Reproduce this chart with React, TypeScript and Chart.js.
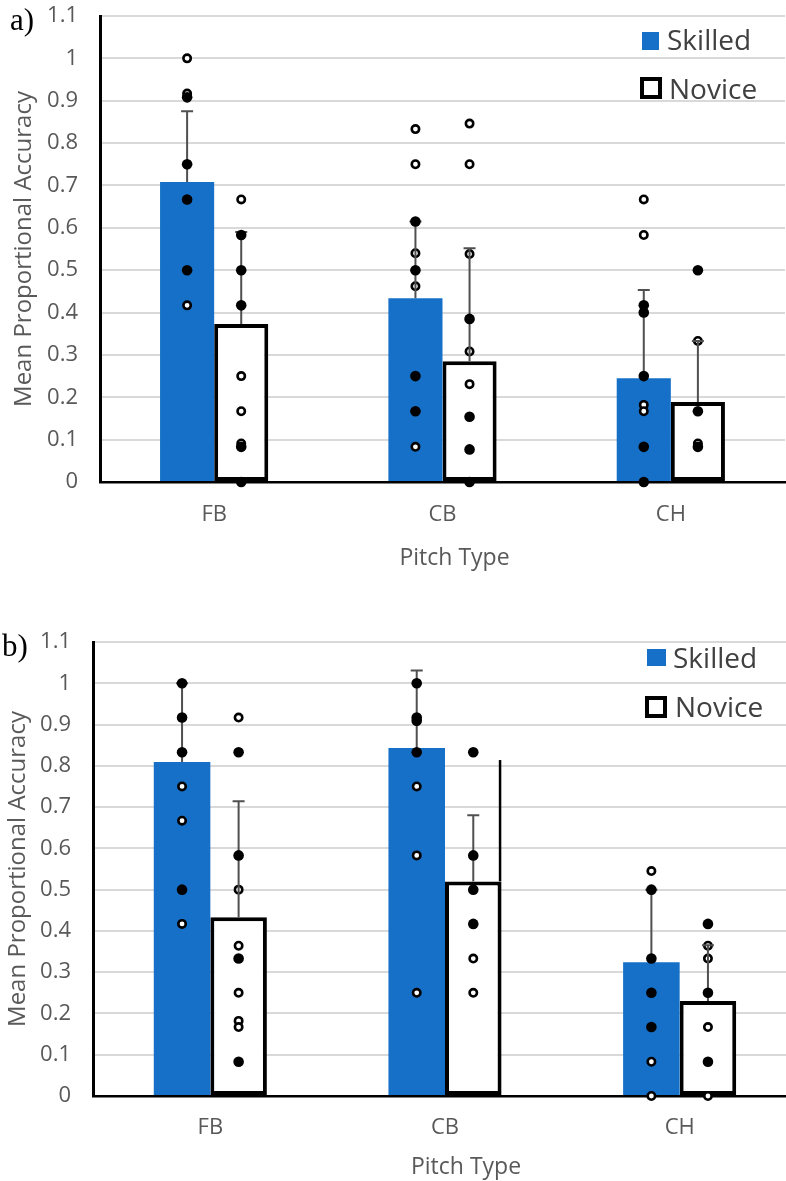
import React, { useEffect, useRef } from "react";
import { Chart, registerables } from "chart.js";

Chart.register(...registerables);

// ---------- shared labels ----------
const categories = ["FB", "CB", "CH"];
const seriesLabels = ["Skilled", "Novice"];
const yTickValues = [0, 0.1, 0.2, 0.3, 0.4, 0.5, 0.6, 0.7, 0.8, 0.9, 1, 1.1];
const yTickLabels = ["0", "0.1", "0.2", "0.3", "0.4", "0.5", "0.6", "0.7", "0.8", "0.9", "1", "1.1"];
const xTitle = "Pitch Type";
const yTitle = "Mean Proportional Accuracy";
const panelLabels = ["a)", "b)"];

// ---------- panel a ----------
const aSkilledMean = [0.708, 0.434, 0.245];
const aNoviceMean = [0.373, 0.285, 0.189];
const aSkilledErrTop = [0.875, 0.615, 0.453];
const aNoviceErrTop = [0.59, 0.552, 0.333];
const aSkilledFilled = [[0.908, 0.75, 0.667, 0.5], [0.615, 0.5, 0.25, 0.167], [0.417, 0.4, 0.25, 0.083, 0]];
const aSkilledOpen = [[1, 0.917, 0.417], [0.833, 0.75, 0.54, 0.462, 0.083], [0.667, 0.583, 0.182, 0.167]];
const aNoviceFilled = [[0.583, 0.5, 0.417, 0.083, 0], [0.385, 0.154, 0.077, 0], [0.5, 0.167, 0.083]];
const aNoviceOpen = [[0.667, 0.25, 0.167, 0.091], [0.846, 0.75, 0.538, 0.308, 0.231], [0.333, 0.091]];

// ---------- panel b ----------
const bSkilledMean = [0.809, 0.843, 0.324];
const bNoviceMean = [0.433, 0.52, 0.23];
const bSkilledErrTop = [1.0, 1.031, 0.5];
const bNoviceErrTop = [0.714, 0.68, 0.365];
const bSkilledFilled = [[1, 0.917, 0.833, 0.5], [1, 0.917, 0.909, 0.833], [0.5, 0.333, 0.25, 0.167]];
const bSkilledOpen = [[0.75, 0.667, 0.417], [0.75, 0.583, 0.25], [0.545, 0.083, 0]];
const bNoviceFilled = [[0.833, 0.583, 0.333, 0.083], [0.833, 0.583, 0.5, 0.417], [0.417, 0.25, 0.083]];
const bNoviceOpen = [[0.917, 0.5, 0.364, 0.25, 0.182, 0.167], [0.333, 0.25], [0.364, 0.333, 0.167, 0]];
const bNoviceEdgeLine = [null, 0.814, null];

// ---------- styles ----------
const BLUE = "#1670C8";
const GRID = "#d9d9d9";
const TEXT = "#595959";
const LEGEND_TEXT = "#404040";
const FONT = "'Open Sans', 'Noto Sans', sans-serif";

const overlayPlugin = {
  id: "overlay",
  afterDatasetsDraw(chart: any, _args: any, opts: any) {
    const ctx = chart.ctx;
    const ys = chart.scales.y;
    const groups = opts.groups || [];
    ctx.save();
    const barsOf = (di: number) =>
      chart.getDatasetMeta(di).data.map((b: any) => b.getProps(["x", "y", "width"], true));

    // open markers
    groups.forEach((g: any, di: number) => {
      barsOf(di).forEach((bar: any, i: number) => {
        (g.open[i] || []).forEach((v: number) => {
          const py = ys.getPixelForValue(v);
          ctx.beginPath();
          ctx.arc(bar.x, py, 3.7, 0, Math.PI * 2);
          ctx.fillStyle = "#ffffff";
          ctx.fill();
          ctx.lineWidth = 2.6;
          ctx.strokeStyle = "#000000";
          ctx.stroke();
        });
      });
    });

    // error bars (upper)
    groups.forEach((g: any, di: number) => {
      barsOf(di).forEach((bar: any, i: number) => {
        const top = g.errTop[i];
        if (top == null) return;
        const py = ys.getPixelForValue(top);
        ctx.strokeStyle = "#505050";
        ctx.lineWidth = 2;
        ctx.beginPath();
        ctx.moveTo(bar.x, bar.y);
        ctx.lineTo(bar.x, py);
        ctx.moveTo(bar.x - 6, py);
        ctx.lineTo(bar.x + 6, py);
        ctx.stroke();
      });
    });

    // stray outline segment on a bar's right edge
    groups.forEach((g: any, di: number) => {
      if (!g.edge) return;
      barsOf(di).forEach((bar: any, i: number) => {
        const v = g.edge[i];
        if (v == null) return;
        const ex = bar.x + bar.width / 2 - 1.5;
        ctx.strokeStyle = "#000000";
        ctx.lineWidth = 2.5;
        ctx.beginPath();
        ctx.moveTo(ex, bar.y);
        ctx.lineTo(ex, ys.getPixelForValue(v));
        ctx.stroke();
      });
    });

    // filled markers
    groups.forEach((g: any, di: number) => {
      barsOf(di).forEach((bar: any, i: number) => {
        (g.filled[i] || []).forEach((v: number) => {
          const py = ys.getPixelForValue(v);
          ctx.beginPath();
          ctx.arc(bar.x, py, 5.3, 0, Math.PI * 2);
          ctx.fillStyle = "#000000";
          ctx.fill();
        });
      });
    });
    ctx.restore();
  },
  afterDraw(chart: any, _args: any, opts: any) {
    const ctx = chart.ctx;
    ctx.save();
    const lg = opts.legend;
    if (lg) {
      const datasets = chart.data.datasets;
      lg.items.forEach((it: any, j: number) => {
        const ds = datasets[j];
        if (ds.borderWidth) {
          ctx.fillStyle = "#ffffff";
          ctx.fillRect(it.left, it.top, it.w, it.h);
          ctx.lineWidth = 4;
          ctx.strokeStyle = ds.borderColor;
          ctx.strokeRect(it.left + 2, it.top + 2, it.w - 4, it.h - 4);
        } else {
          ctx.fillStyle = ds.backgroundColor;
          ctx.fillRect(it.left, it.top, it.w, it.h);
        }
        ctx.font = `28px ${FONT}`;
        ctx.fillStyle = LEGEND_TEXT;
        ctx.textAlign = "left";
        ctx.textBaseline = "alphabetic";
        ctx.fillText(ds.label, it.textX, it.baseline);
      });
    }
    if (opts.xTitle) {
      const ca = chart.chartArea;
      ctx.font = `23px ${FONT}`;
      ctx.fillStyle = TEXT;
      ctx.textAlign = "center";
      ctx.textBaseline = "middle";
      ctx.fillText(opts.xTitle.text, (ca.left + ca.right) / 2 + opts.xTitle.dx, opts.xTitle.y);
    }
    if (opts.panel) {
      ctx.font = "31px 'Liberation Serif', 'Times New Roman', serif";
      ctx.fillStyle = "#000000";
      ctx.textAlign = "left";
      ctx.textBaseline = "alphabetic";
      ctx.fillText(opts.panel.text, opts.panel.x, opts.panel.baseline);
    }
    ctx.restore();
  },
};

type PanelCfg = {
  pageTop: number;
  width: number;
  height: number;
  yWidth: number;
  xHeight: number;
  padTop: number;
  padRight: number;
  xTickPad: number;
  yTitlePadTop: number;
  barFrac: number;
  skilled: number[];
  novice: number[];
  groups: any[];
  legend: any;
  xTitle: any;
  panel: any;
};

function makeConfig(c: PanelCfg): any {
  return {
    type: "bar",
    data: {
      labels: categories,
      datasets: [
        {
          label: seriesLabels[0],
          data: c.skilled,
          backgroundColor: BLUE,
          borderWidth: 0,
          barPercentage: 1,
          categoryPercentage: c.barFrac,
        },
        {
          label: seriesLabels[1],
          data: c.novice,
          backgroundColor: "#ffffff",
          borderColor: "#000000",
          borderWidth: 4,
          borderSkipped: false,
          barPercentage: 1,
          categoryPercentage: c.barFrac,
        },
      ],
    },
    options: {
      responsive: false,
      animation: false,
      layout: { padding: { top: c.padTop, right: c.padRight, left: 0, bottom: 0 } },
      plugins: {
        legend: { display: false },
        tooltip: { enabled: false },
        overlay: { groups: c.groups, legend: c.legend, panel: c.panel, xTitle: c.xTitle },
      },
      scales: {
        x: {
          grid: { display: false, drawTicks: false, tickLength: 0 },
          border: { display: true, color: "#000000", width: 2.5 },
          ticks: { color: TEXT, font: { family: FONT, size: 22 }, padding: c.xTickPad },
          title: { display: false },
          afterFit: (s: any) => {
            s.height = c.xHeight;
          },
        },
        y: {
          min: 0,
          max: 1.1,
          afterBuildTicks: (s: any) => {
            s.ticks = yTickValues.map((v) => ({ value: v }));
          },
          grid: { color: GRID, lineWidth: 2, drawTicks: false, tickLength: 0 },
          border: { display: true, color: "#000000", width: 3 },
          ticks: {
            color: TEXT,
            font: { family: FONT, size: 22 },
            padding: 22,
            autoSkip: false,
            callback: (_v: any, i: number) => yTickLabels[i],
          },
          title: {
            display: true,
            text: yTitle,
            color: TEXT,
            font: { family: FONT, size: 24 },
            padding: { top: c.yTitlePadTop, bottom: 0 },
          },
          afterFit: (s: any) => {
            s.width = c.yWidth;
          },
        },
      },
    },
    plugins: [overlayPlugin],
  };
}

// Panel a's canvas starts 20px above the page so the plot top can sit at y=16.
const panelA: PanelCfg = {
  pageTop: -20,
  width: 786,
  height: 610,
  yWidth: 100,
  xHeight: 108,
  padTop: 36,
  padRight: 1,
  xTickPad: 20,
  yTitlePadTop: 10,
  barFrac: 0.474,
  skilled: aSkilledMean,
  novice: aNoviceMean,
  groups: [
    { errTop: aSkilledErrTop, filled: aSkilledFilled, open: aSkilledOpen },
    { errTop: aNoviceErrTop, filled: aNoviceFilled, open: aNoviceOpen },
  ],
  legend: {
    items: [
      { left: 642, top: 52, w: 17, h: 18, textX: 667, baseline: 70 },
      { left: 640, top: 97, w: 22, h: 22, textX: 669, baseline: 119 },
    ],
  },
  xTitle: { text: xTitle, dx: 12, y: 578 },
  panel: { text: panelLabels[0], x: 10, baseline: 50 },
};

const panelB: PanelCfg = {
  pageTop: 590,
  width: 797,
  height: 591,
  yWidth: 93,
  xHeight: 85,
  padTop: 52,
  padRight: 0,
  xTickPad: 19,
  yTitlePadTop: 4,
  barFrac: 0.482,
  skilled: bSkilledMean,
  novice: bNoviceMean,
  groups: [
    { errTop: bSkilledErrTop, filled: bSkilledFilled, open: bSkilledOpen },
    { errTop: bNoviceErrTop, filled: bNoviceFilled, open: bNoviceOpen, edge: bNoviceEdgeLine },
  ],
  legend: {
    items: [
      { left: 647, top: 59, w: 19, h: 17, textX: 673, baseline: 78 },
      { left: 645, top: 106, w: 22, h: 22, textX: 675, baseline: 127 },
    ],
  },
  xTitle: { text: xTitle, dx: 21, y: 577 },
  panel: { text: panelLabels[1], x: 2, baseline: 66 },
};

function Panel({ cfg }: { cfg: PanelCfg }) {
  const ref = useRef<HTMLCanvasElement | null>(null);
  useEffect(() => {
    if (!ref.current) return;
    const chart = new Chart(ref.current, makeConfig(cfg));
    return () => chart.destroy();
  }, [cfg]);
  return (
    <canvas
      ref={ref}
      width={cfg.width}
      height={cfg.height}
      style={{
        position: "absolute",
        left: 0,
        top: cfg.pageTop,
        width: cfg.width,
        height: cfg.height,
        display: "block",
      }}
    />
  );
}

export default function App() {
  return (
    <div
      style={{
        position: "absolute",
        left: 0,
        top: 0,
        width: 786,
        height: 1181,
        overflow: "hidden",
        background: "#ffffff",
      }}
    >
      <Panel cfg={panelB} />
      <Panel cfg={panelA} />
    </div>
  );
}
